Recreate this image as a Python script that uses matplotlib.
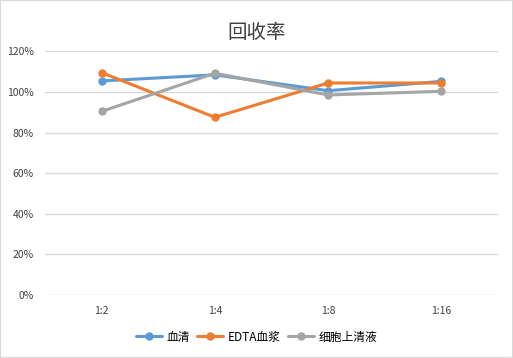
import matplotlib.pyplot as plt
from matplotlib.ticker import FuncFormatter, MultipleLocator

plt.rcParams["font.family"] = ["Noto Sans CJK SC", "DejaVu Sans"]

categories = ["1:2", "1:4", "1:8", "1:16"]
serum = [105.4, 108.4, 100.6, 105.2]
edta_plasma = [109.5, 87.5, 104.4, 104.4]
cell_supernatant = [90.4, 109.2, 98.5, 100.3]

series = [
    ("血清", serum, "#5B9BD5"),
    ("EDTA血浆", edta_plasma, "#ED7D31"),
    ("细胞上清液", cell_supernatant, "#A5A5A5"),
]

fig = plt.figure(figsize=(5.13, 3.58), dpi=100)
ax = fig.add_axes([45 / 513, 1 - 295 / 358, 453 / 513, (295 - 51.3) / 358])

x = range(len(categories))
for label, values, color in series:
    ax.plot(x, values, color=color, linewidth=2.2, marker="o", markersize=5,
            label=label, solid_capstyle="round")

ax.set_xlim(-0.5, len(categories) - 0.5)
ax.set_ylim(0, 120)
ax.yaxis.set_major_locator(MultipleLocator(20))
ax.yaxis.set_major_formatter(FuncFormatter(lambda v, _: f"{v:.0f}%"))
ax.set_xticks(list(x))
ax.set_xticklabels(categories)
ax.tick_params(length=0, labelsize=7.5, colors="#404040", pad=8)
ax.tick_params(axis="x", pad=8)
ax.grid(axis="y", color="#D9D9D9", linewidth=1)
ax.set_axisbelow(True)
for s in ax.spines.values():
    s.set_visible(False)

fig.text(0.5, 1 - 32 / 358, "回收率", ha="center", va="center",
         fontsize=14, color="#404040", fontweight="light")

fig.legend(loc="center", bbox_to_anchor=(0.5, 1 - 337 / 358), ncol=3,
           frameon=False, fontsize=8.5, handlelength=2.2, columnspacing=0.6,
           handletextpad=0.4, labelcolor="#000000")

fig.patches.append(plt.Rectangle((0, 0), 1, 1, transform=fig.transFigure,
                                 fill=False, edgecolor="#D9D9D9", linewidth=1.5))

fig.savefig("out.png", dpi=100)
